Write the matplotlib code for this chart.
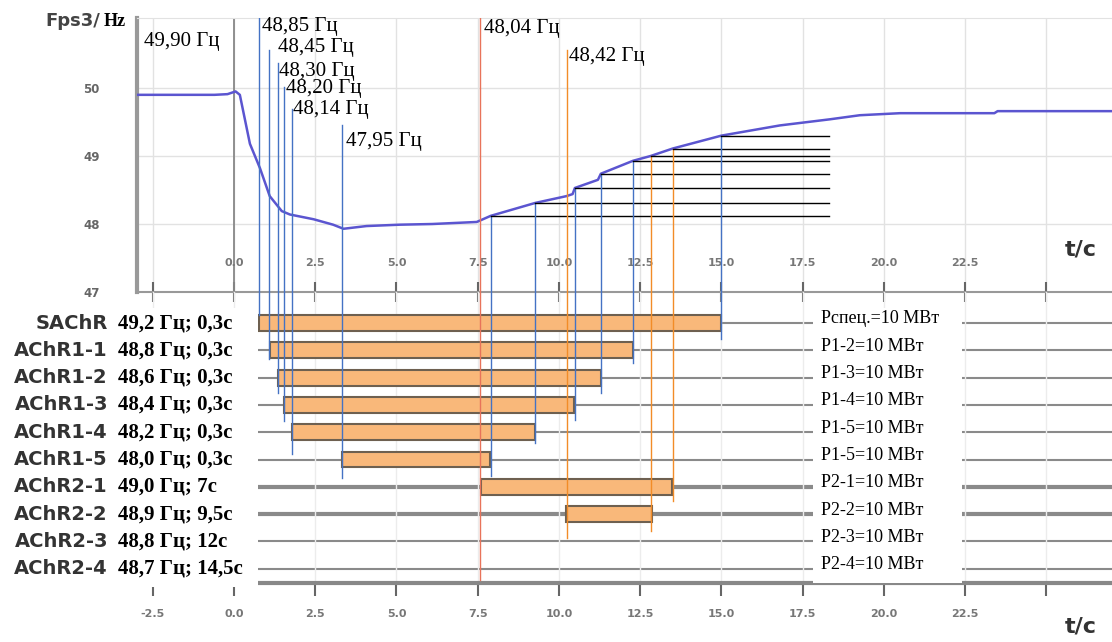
import matplotlib.pyplot as plt
from matplotlib.patches import Rectangle

# frequency curve (s, Hz)
t_curve = [-3.0, -0.6, -0.2, 0.05, 0.18, 0.49, 0.8, 1.1, 1.47, 1.72, 2.45, 3.05, 3.37, 4.08,
           5.1, 6.1, 7.47, 7.9, 9.27, 10.23, 10.42, 10.49, 11.2, 11.29, 12.28, 12.82, 13.5,
           15.0, 16.8, 18.34, 19.26, 20.5, 23.4, 23.5, 27.0]
f_curve = [49.90, 49.90, 49.91, 49.95, 49.90, 49.18, 48.82, 48.41, 48.19, 48.14, 48.07, 47.99,
           47.93, 47.97, 47.99, 48.00, 48.03, 48.12, 48.31, 48.41, 48.44, 48.53, 48.65, 48.74,
           48.93, 49.00, 49.11, 49.30, 49.45, 49.54, 49.60, 49.63, 49.63, 49.66, 49.66]

# relays
names = ['SAChR', 'AChR1-1', 'AChR1-2', 'AChR1-3', 'AChR1-4', 'AChR1-5',
         'AChR2-1', 'AChR2-2', 'AChR2-3', 'AChR2-4']
settings = ['49,2 Гц; 0,3с', '48,8 Гц; 0,3с', '48,6 Гц; 0,3с', '48,4 Гц; 0,3с', '48,2 Гц; 0,3с',
            '48,0 Гц; 0,3с', '49,0 Гц; 7с', '48,9 Гц; 9,5с', '48,8 Гц; 12с', '48,7 Гц; 14,5с']
powers = ['Рспец.=10 МВт', 'P1-2=10 МВт', 'P1-3=10 МВт', 'P1-4=10 МВт', 'P1-5=10 МВт',
          'P1-5=10 МВт', 'P2-1=10 МВт', 'P2-2=10 МВт', 'P2-3=10 МВт', 'P2-4=10 МВт']
bar_start = [0.78, 1.11, 1.34, 1.55, 1.80, 3.31, 7.59, 10.22]
bar_end = [15.0, 12.28, 11.29, 10.47, 9.25, 7.88, 13.47, 12.87]
row_lw = [1.5, 1.5, 1.5, 1.5, 1.5, 1.5, 3.0, 3.0, 1.5, 1.5]

# marker lines: time, top frequency, end row
drop_t = [0.78, 1.09, 1.34, 1.55, 1.80, 3.31]
drop_top = [51.03, 50.56, 50.37, 50.01, 49.69, 49.46]
drop_end = [-0.3, 1.3, 2.57, 3.59, 4.8, 5.66]
drop_lbl = ['48,85 Гц', '48,45 Гц', '48,30 Гц', '48,20 Гц', '48,14 Гц', '47,95 Гц']
drop_lbl_t = [0.86, 1.35, 1.38, 1.60, 1.82, 3.45]
drop_lbl_f = [50.91, 50.59, 50.25, 49.99, 49.69, 49.22]

rise_t = [7.9, 9.27, 10.49, 11.29, 12.28, 12.82, 13.5, 15.0]
rise_f = [48.12, 48.31, 48.53, 48.74, 48.93, 49.00, 49.11, 49.30]
rise_end = [5.62, 4.4, 3.55, 2.55, 1.47, 7.62, 6.51, 0.59]
rise_col = ['#4472C4', '#4472C4', '#4472C4', '#4472C4', '#4472C4', '#F28C28', '#F28C28', '#4472C4']
hold_to = 18.3

red_t, red_end = 7.57, 9.4
org_t, org_top, org_end = 10.26, 50.56, 7.88

ticks = [-2.5, 0.0, 2.5, 5.0, 7.5, 10.0, 12.5, 15.0, 17.5, 20.0, 22.5, 25.0]

W, H = 1112, 642
fig = plt.figure(figsize=(W / 100, H / 100), dpi=100)
ax1 = fig.add_axes([137 / W, 1 - 292 / H, (W - 137) / W, 274 / H])
ax2 = fig.add_axes([137 / W, 1 - 583 / H, (W - 137) / W, 291 / H])
xl = (-2.985, 27.02)

# ---- top: frequency
ax1.set_xlim(xl)
ax1.set_ylim(47, 51.03)
ax1.set_xticks(ticks)
ax1.set_xticklabels([])
ax1.tick_params(axis='x', direction='inout', length=14, width=1.5, color='#666')
ax1.set_yticks([47, 48, 49, 50])
ax1.set_yticklabels(['47', '48', '49', '50'], color='#666', fontsize=8.5, fontweight='bold')
ax1.tick_params(axis='y', length=0, pad=27)
ax1.grid(color='#e2e2e2', lw=1)
ax1.spines['right'].set_visible(False)
ax1.spines['top'].set_color('#e2e2e2')
ax1.spines['left'].set_color('#999')
ax1.spines['left'].set_linewidth(3)
ax1.spines['bottom'].set_color('#999')
ax1.spines['bottom'].set_linewidth(1.5)
ax1.axvline(0, color='#888', lw=1.3)
for t in ticks[1:-1]:
    ax1.text(t, 47.43, f'{t:.1f}', ha='center', va='center', color='#777', fontsize=8,
             fontweight='bold')
ax1.plot(t_curve, f_curve, color='#5B55D0', lw=1.8, zorder=3)

serif = 'Liberation Serif'
ax1.text(-2.77, 50.69, '49,90 Гц', family=serif, fontsize=15, va='center')
for t, top, lbl, lt, lf in zip(drop_t, drop_top, drop_lbl, drop_lbl_t, drop_lbl_f):
    ax1.plot([t, t], [47, top], color='#4472C4', lw=1, zorder=4)
    ax1.text(lt, lf, lbl, family=serif, fontsize=15, va='center')
for t, f, c in zip(rise_t, rise_f, rise_col):
    ax1.plot([t, t], [47, f], color=c, lw=1, zorder=4)
    ax1.plot([t, hold_to], [f, f], color='black', lw=1, zorder=4)
ax1.plot([red_t, red_t], [47, 51.03], color='#E8735A', lw=1, zorder=4)
ax1.text(red_t + 0.12, 50.87, '48,04 Гц', family=serif, fontsize=15, va='center')
ax1.plot([org_t, org_t], [47, org_top], color='#F28C28', lw=1, zorder=4)
ax1.text(org_t + 0.06, 50.47, '48,42 Гц', family=serif, fontsize=15, va='center')

fig.text(45 / W, 1 - 21 / H, 'Fps3/', fontsize=13, fontweight='bold', color='#444', va='center')
fig.text(104 / W, 1 - 21 / H, 'Hz', fontsize=13, fontweight='bold', family=serif, va='center')
fig.text(1065 / W, 1 - 250 / H, 't/c', fontsize=16, fontweight='bold', color='#333', va='center')
fig.text(1065 / W, 1 - 627 / H, 't/c', fontsize=16, fontweight='bold', color='#333', va='center')

# ---- bottom: relay timeline
ax2.set_facecolor('none')
ax2.set_xlim(xl)
ax2.set_ylim(9.52, -1.136)
ax2.set_xticks(ticks)
ax2.set_xticklabels([f'{t:.1f}' for t in ticks[:-1]] + [''], color='#777', fontsize=8,
                    fontweight='bold')
ax2.tick_params(axis='x', direction='out', length=9, width=1.5, color='#666', pad=10)
ax2.set_yticks([])
ax2.grid(axis='x', color='#ececec', lw=1)
for s in ['top', 'right', 'left']:
    ax2.spines[s].set_visible(False)
ax2.spines['bottom'].set_color('#888')
ax2.spines['bottom'].set_linewidth(3)

for i in range(len(names)):
    ax2.axhline(i, color='#8a8a8a', lw=row_lw[i], zorder=1)
for i, (s, e) in enumerate(zip(bar_start, bar_end)):
    ax2.barh(i, e - s, left=s, height=0.58, color='#F9B87A', edgecolor='#6e6050', lw=1.5,
             zorder=2)

ax2.add_patch(Rectangle((-6.9, -0.54), 7.64, 10.2, facecolor='white', edgecolor='none',
                        zorder=3, clip_on=False))
ax2.add_patch(Rectangle((17.82, -0.54), 4.58, 10.2, facecolor='white', edgecolor='none',
                        zorder=3))
for i in range(len(names)):
    ax2.text(-3.88, i, names[i], ha='right', va='center', fontsize=14, fontweight='bold',
             color='#333', zorder=5, clip_on=False)
    ax2.text(-3.57, i, settings[i], ha='left', va='center', fontsize=15, fontweight='bold',
             family=serif, zorder=5, clip_on=False)
    ax2.text(18.07, i - 0.15, powers[i], ha='left', va='center', fontsize=13, family=serif,
             zorder=5)

for t, e in zip(drop_t, drop_end):
    ax2.plot([t, t], [-1.136, e], color='#4472C4', lw=1, zorder=4)
for t, e, c in zip(rise_t, rise_end, rise_col):
    ax2.plot([t, t], [-1.136, e], color=c, lw=1, zorder=4)
ax2.plot([red_t, red_t], [-1.136, red_end], color='#E8735A', lw=1, zorder=4)
ax2.plot([org_t, org_t], [-1.136, org_end], color='#F28C28', lw=1, zorder=4)

fig.savefig('out.png', dpi=100)
